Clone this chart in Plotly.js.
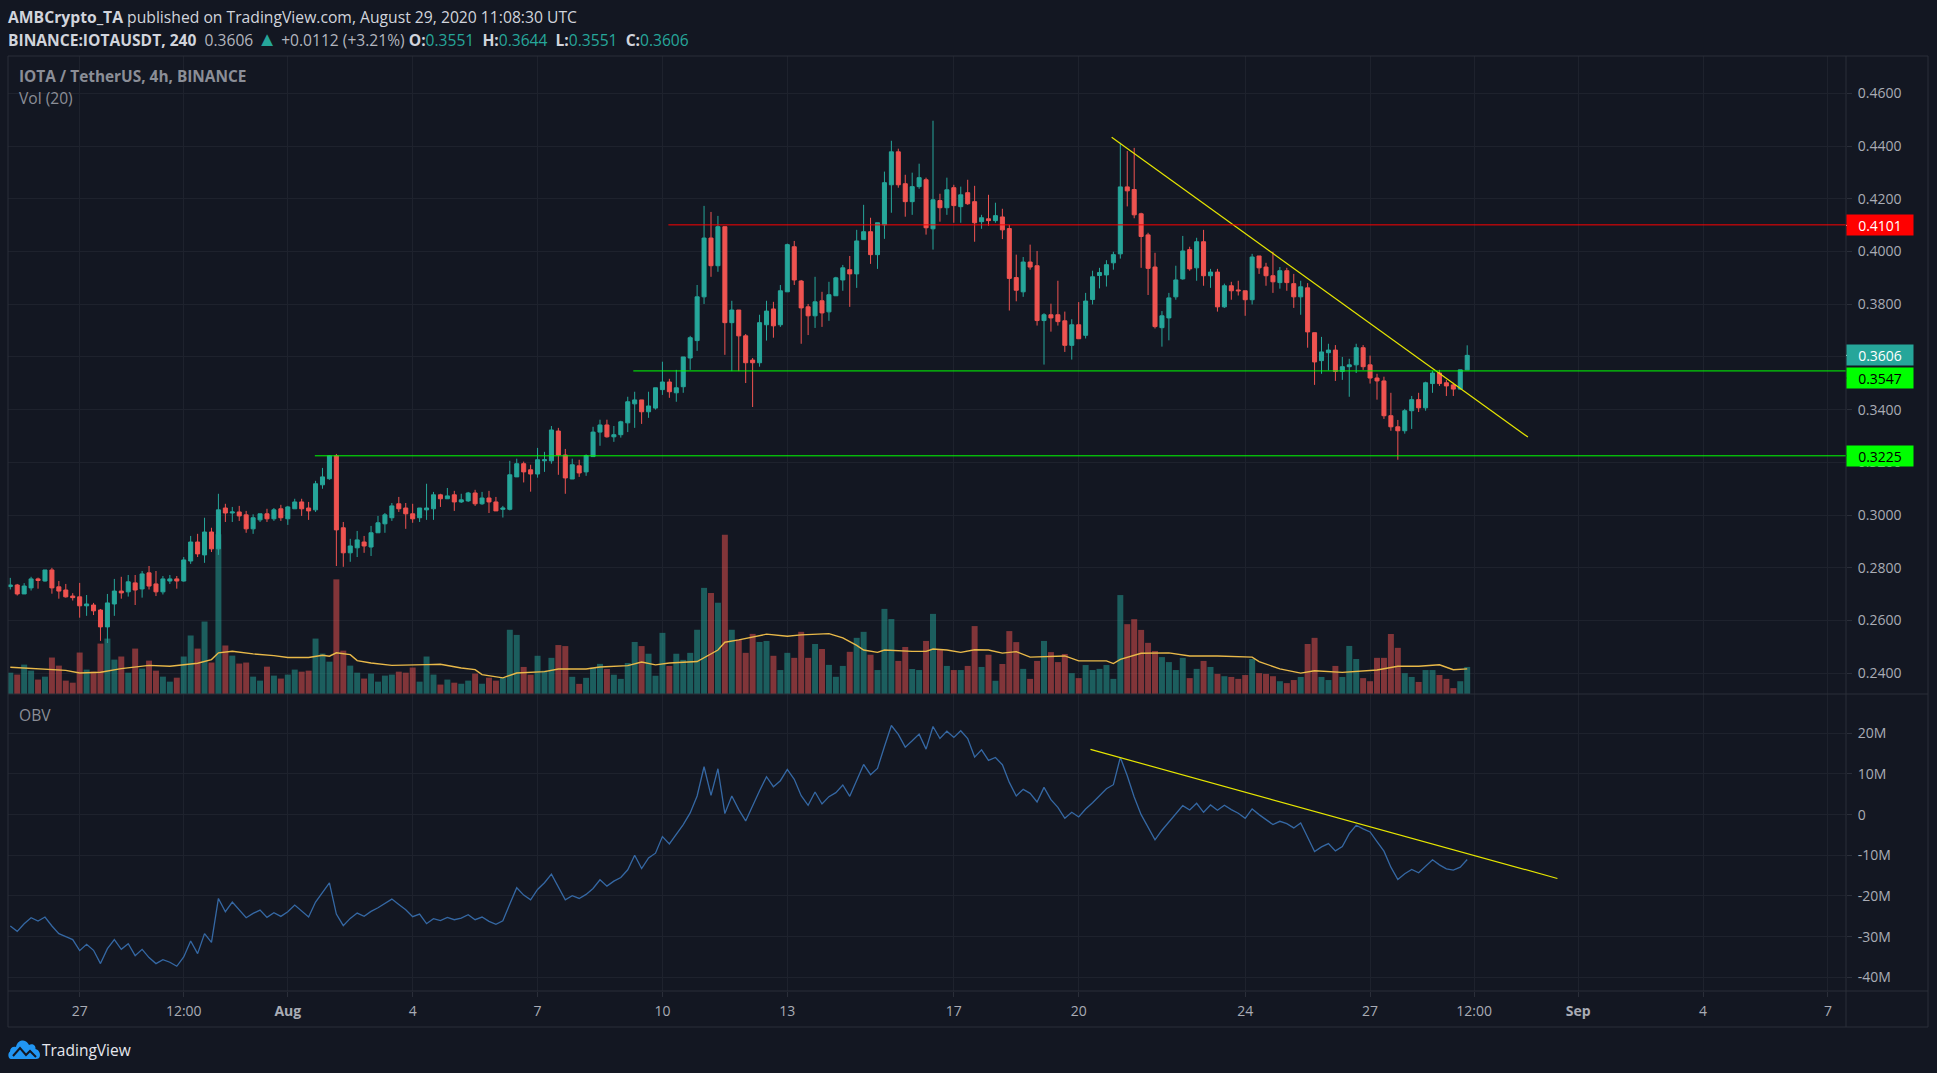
<!DOCTYPE html>
<html><head><meta charset="utf-8">
<script src="https://cdn.plot.ly/plotly-3.0.1.min.js"></script>
<style>html,body{margin:0;padding:0;background:#131722;overflow:hidden}#c{width:1937px;height:1073px}</style>
</head><body><div id="c"></div>
<script>
const startTime = '2020-07-25T08:00:00Z';
const open = [
.2729,.2735,.2701,.2724,.2758,.2750,.2792,.2728,.2716,.2693,
.2690,.2656,.2659,.2640,.2576,.2663,.2712,.2709,.2743,.2720,
.2781,.2739,.2709,.2750,.2758,.2750,.2826,.2898,.2849,.2936,
.2872,.3027,.3008,.3012,.3001,.2948,.2982,.3005,.2986,.3024,
.2986,.3024,.3050,.3027,.3020,.3115,.3138,.3225,.2952,.2857,
.2876,.2898,.2879,.2933,.2967,.2990,.3043,.3027,.3005,.2990,
.3020,.3024,.3077,.3062,.3077,.3050,.3054,.3084,.3043,.3065,
.3050,.3022,.3022,.3145,.3195,.3172,.3156,.3206,.3206,.3319,
.3228,.3137,.3187,.3164,.3222,.3315,.3342,.3297,.3305,.3350,
.3422,.3437,.3392,.3406,.3476,.3505,.3464,.3487,.3596,.3662,
.3828,.4051,.3946,.4094,.3730,.3778,.3680,.3588,.3578,.3722,
.3782,.3722,.3847,.4018,.3888,.3790,.3756,.3813,.3771,.3832,
.3892,.3931,.3915,.4045,.4075,.3988,.4101,.4253,.4378,.4257,
.4189,.4246,.4272,.4086,.4193,.4166,.4242,.4170,.4223,.4189,
.4113,.4124,.4117,.4131,.4087,.3901,.3847,.3960,.3946,.3738,
.3760,.3760,.3737,.3644,.3722,.3682,.3818,.3909,.3911,.3957,
.3991,.4245,.4235,.4143,.4063,.3941,.3711,.3748,.3828,.3896,
.4007,.3938,.4037,.3908,.3922,.3790,.3870,.3854,.3851,.3817,
.3983,.3941,.3908,.3882,.3927,.3878,.3828,.3862,.3692,.3586,
.3616,.3626,.3545,.3563,.3570,.3635,.3570,.3520,.3509,.3377,
.3335,.3320,.3396,.3438,.3407,.3499,.3539,.3502,.3494,.3478,
.3551];
const high = [
.2762,.2739,.2742,.2766,.2763,.2792,.2800,.2750,.2739,.2704,
.2743,.2697,.2667,.2644,.2701,.2758,.2766,.2773,.2773,.2788,
.2807,.2788,.2769,.2773,.2769,.2841,.2921,.2929,.2990,.2952,
.3081,.3043,.3031,.3035,.3016,.3003,.3005,.3024,.3027,.3039,
.3035,.3062,.3062,.3050,.3130,.3179,.3228,.3232,.2974,.2910,
.2940,.2921,.2959,.2997,.3008,.3046,.3069,.3046,.3043,.3027,
.3119,.3088,.3081,.3103,.3092,.3081,.3088,.3096,.3088,.3092,
.3069,.3035,.3206,.3214,.3203,.3191,.3255,.3240,.3338,.3331,
.3251,.3214,.3210,.3230,.3335,.3362,.3362,.3338,.3358,.3449,
.3468,.3437,.3468,.3483,.3582,.3517,.3551,.3600,.3680,.3873,
.4173,.4150,.4135,.4094,.3813,.3778,.3687,.3596,.3760,.3813,
.3809,.3873,.4030,.4040,.3892,.3801,.3904,.3847,.3885,.3904,
.3949,.3983,.4082,.4177,.4128,.4109,.4303,.4420,.4390,.4291,
.4299,.4333,.4280,.4496,.4219,.4280,.4253,.4246,.4272,.4249,
.4139,.4215,.4185,.4162,.4101,.3988,.3979,.4026,.4002,.3766,
.3802,.3889,.3772,.3743,.3808,.3843,.3927,.3938,.3967,.3999,
.4412,.4381,.4393,.4147,.4071,.3995,.3774,.3843,.3946,.4059,
.4018,.4052,.4082,.3934,.3934,.3878,.3885,.3889,.3851,.3991,
.3983,.3957,.3999,.3941,.3938,.3915,.3889,.3880,.3692,.3676,
.3650,.3645,.3600,.3593,.3650,.3645,.3605,.3536,.3525,.3464,
.3361,.3403,.3452,.3464,.3506,.3547,.3551,.3513,.3502,.3551,
.3644];
const low = [
.2718,.2695,.2701,.2714,.2721,.2748,.2702,.2683,.2687,.2676,
.2611,.2618,.2621,.2523,.2515,.2618,.2683,.2691,.2659,.2687,
.2718,.2693,.2699,.2739,.2721,.2748,.2815,.2841,.2819,.2860,
.2849,.2974,.2974,.2978,.2933,.2929,.2974,.2974,.2978,.2978,
.2963,.3024,.2997,.2982,.3012,.3100,.3134,.2807,.2804,.2823,
.2841,.2857,.2845,.2933,.2933,.2978,.3012,.2948,.2971,.2974,
.2982,.2982,.3031,.3062,.3016,.3046,.3050,.3035,.3039,.3008,
.3016,.2991,.3018,.3145,.3124,.3089,.3142,.3164,.3195,.3153,
.3081,.3137,.3145,.3149,.3222,.3263,.3294,.3278,.3294,.3315,
.3331,.3346,.3369,.3400,.3456,.3445,.3430,.3464,.3551,.3623,
.3801,.3904,.3923,.3608,.3546,.3546,.3501,.3410,.3563,.3662,
.3673,.3714,.3847,.3873,.3650,.3683,.3710,.3714,.3737,.3832,
.3851,.3790,.3862,.4045,.3953,.3934,.4048,.4147,.4242,.4132,
.4139,.4238,.4064,.4007,.4113,.4139,.4109,.4109,.4177,.4037,
.4086,.4098,.4109,.4047,.3776,.3811,.3828,.3931,.3719,.3571,
.3696,.3719,.3619,.3590,.3669,.3670,.3799,.3860,.3867,.3931,
.3973,.4171,.4126,.3938,.3835,.3708,.3639,.3663,.3817,.3893,
.3927,.3889,.3870,.3862,.3772,.3786,.3817,.3833,.3756,.3799,
.3915,.3870,.3843,.3859,.3851,.3786,.3760,.3635,.3494,.3536,
.3549,.3509,.3513,.3449,.3539,.3551,.3499,.3438,.3365,.3320,
.3210,.3309,.3327,.3391,.3396,.3464,.3490,.3452,.3452,.3476,
.3551];
const close = [
.2735,.2701,.2731,.2758,.2752,.2792,.2724,.2712,.2690,.2687,
.2656,.2663,.2637,.2576,.2667,.2712,.2705,.2747,.2716,.2777,
.2731,.2709,.2758,.2758,.2750,.2830,.2898,.2853,.2936,.2872,
.3020,.3008,.3012,.2997,.2948,.2990,.3005,.2986,.3020,.2990,
.3031,.3050,.3024,.3016,.3119,.3145,.3225,.2944,.2857,.2883,
.2906,.2883,.2933,.2971,.3001,.3035,.3024,.3005,.2986,.3027,
.3027,.3077,.3062,.3073,.3050,.3058,.3084,.3043,.3065,.3050,
.3016,.3027,.3153,.3195,.3164,.3156,.3210,.3210,.3323,.3228,
.3141,.3191,.3160,.3226,.3315,.3342,.3297,.3305,.3354,.3430,
.3437,.3392,.3414,.3483,.3505,.3468,.3483,.3600,.3673,.3828,
.4051,.3946,.4094,.3730,.3778,.3680,.3578,.3578,.3730,.3774,
.3718,.3851,.4026,.3892,.3786,.3756,.3809,.3767,.3836,.3900,
.3938,.3915,.4040,.4075,.3988,.4109,.4261,.4378,.4253,.4189,
.4246,.4280,.4090,.4196,.4166,.4234,.4174,.4215,.4181,.4109,
.4128,.4117,.4136,.4082,.3898,.3853,.3960,.3941,.3738,.3760,
.3748,.3734,.3644,.3722,.3669,.3812,.3904,.3920,.3950,.3988,
.4245,.4230,.4139,.4057,.3936,.3715,.3756,.3824,.3892,.4002,
.3934,.4037,.3908,.3922,.3790,.3870,.3851,.3851,.3817,.3979,
.3938,.3908,.3885,.3927,.3882,.3828,.3866,.3695,.3581,.3619,
.3626,.3545,.3563,.3570,.3635,.3563,.3520,.3509,.3377,.3335,
.3320,.3396,.3438,.3407,.3502,.3539,.3499,.3490,.3478,.3551,
.3606];
// Volume in millions
const volume = [
1.45,1.32,2.00,1.59,.98,1.18,2.48,1.93,.91,.77,
2.82,1.66,1.52,3.43,3.77,2.34,2.55,1.45,3.09,1.73,
2.27,1.59,1.18,.84,1.11,2.55,3.98,3.09,4.93,2.14,
10.86,3.30,2.61,2.07,2.14,1.18,.91,1.86,1.25,1.05,
1.32,1.66,1.52,1.59,3.77,2.75,2.20,7.80,2.95,1.93,
1.45,1.05,1.39,.84,1.25,1.32,1.52,1.45,1.80,.84,
2.55,1.32,.64,.98,.77,.70,.91,1.39,.70,1.11,
.91,1.10,4.37,4.02,1.84,1.31,2.60,1.59,2.46,3.33,
3.26,1.17,.69,1.10,1.79,2.05,1.70,1.31,1.03,2.11,
3.54,3.26,2.74,1.24,4.16,1.91,2.74,2.32,2.80,4.37,
7.22,6.87,6.21,10.83,4.37,3.68,2.80,4.09,3.54,3.61,
2.60,1.63,2.80,2.46,4.23,2.46,3.40,3.06,1.98,1.17,
1.91,2.87,3.82,4.23,2.67,1.63,5.79,5.10,2.25,3.20,
1.70,1.63,3.61,5.45,3.01,1.91,1.63,1.63,1.91,4.62,
1.84,2.67,.90,2.04,4.28,3.53,1.71,1.03,2.25,3.61,
2.85,2.17,2.72,1.42,1.08,1.97,1.63,1.71,1.97,1.03,
6.73,4.75,5.09,4.36,3.48,2.93,2.51,2.17,1.63,2.46,
1.08,1.71,2.25,1.84,1.37,1.21,1.16,1.03,1.29,2.38,
1.42,1.37,1.21,.87,.74,.95,1.16,3.40,3.82,1.16,
.95,1.91,1.16,3.27,2.38,1.08,.87,2.46,2.46,4.08,
3.14,1.42,1.16,.82,1.63,1.63,1.29,1.03,.40,.87,
1.84];
// Volume average at these bars
const maBar = [0,3,5,6,8,10,13,16,20,23,25,27,29,30,32,35,38,40,43,45,46,47,49,50,52,55,60,62,65,67,68,70,71,73,77,79,83,85,89,91,93,95,99,102,103,105,107,109,112,114,118,120,122,123,125,126,130,132,133,135,137,139,141,143,145,147,152,154,158,159,160,163,167,170,174,179,180,183,186,188,192,197,200,203,206,208,210];
const maVal = [1.82,1.75,1.73,1.66,1.61,1.43,1.48,1.73,1.95,1.89,2.00,2.09,2.34,2.80,2.91,2.73,2.61,2.48,2.48,2.64,2.57,2.80,2.68,2.27,2.11,1.95,2.00,2.02,1.77,1.66,1.32,1.14,1.10,1.43,1.52,1.70,1.70,1.84,1.93,2.18,1.98,2.11,2.21,2.99,3.52,3.68,3.86,4.07,3.93,4.02,4.11,3.82,3.31,2.99,2.83,2.99,2.90,2.90,3.06,2.99,2.83,3.01,2.99,2.78,2.88,2.51,2.59,2.25,2.25,2.07,2.36,2.77,2.80,2.59,2.59,2.51,2.20,1.71,1.42,1.58,1.47,1.63,1.89,1.89,1.99,1.65,1.71];
// On-balance volume in millions
const obv = [
-27.39,-28.70,-26.82,-25.35,-26.17,-25.18,-27.39,-29.27,-30.00,-30.74,
-33.44,-31.89,-33.36,-36.63,-32.95,-30.74,-33.12,-31.73,-34.67,-33.12,
-35.16,-36.63,-35.65,-36.30,-37.29,-35.00,-31.07,-34.18,-29.27,-31.40,
-20.61,-23.88,-21.50,-23.47,-25.35,-24.28,-23.47,-25.27,-24.12,-25.02,
-23.88,-22.24,-23.71,-25.18,-21.50,-18.97,-16.76,-24.45,-27.31,-25.51,
-24.20,-25.02,-23.79,-22.89,-21.83,-20.77,-22.08,-23.38,-25.10,-24.45,
-26.82,-25.59,-26.08,-25.27,-25.84,-25.43,-24.61,-25.84,-25.18,-26.25,
-26.98,-26.10,-22.00,-17.99,-19.79,-20.93,-18.40,-16.76,-14.64,-17.83,
-20.93,-19.95,-20.61,-19.62,-18.15,-16.03,-17.58,-16.35,-15.45,-13.57,
-9.98,-13.25,-10.63,-9.48,-5.40,-7.20,-4.74,-2.45,.41,4.58,
11.77,4.74,11.28,.25,4.58,1.23,-1.55,2.29,5.89,9.32,
6.87,8.34,11.12,8.67,4.66,2.29,5.56,2.62,4.42,5.40,
7.28,4.50,8.34,12.35,9.81,11.37,16.76,21.91,19.71,16.60,
18.15,19.79,16.11,21.67,18.72,20.52,18.97,20.61,18.72,14.15,
15.94,13.33,14.06,12.27,7.93,4.58,6.21,5.23,3.11,6.70,
3.68,1.80,-.90,.57,-.57,1.39,2.94,4.66,6.38,7.36,
14.06,9.57,4.33,0,-3.27,-6.21,-3.84,-1.80,0,2.21,
1.14,2.78,.57,2.37,1.06,2.29,1.23,.33,-.90,1.39,
0,-1.31,-2.45,-1.64,-2.21,-3.27,-2.04,-5.56,-9.08,-7.93,
-7.11,-8.91,-7.85,-4.66,-2.62,-3.52,-4.25,-6.62,-8.99,-12.92,
-15.94,-14.55,-13.49,-14.31,-12.67,-11.12,-12.35,-13.33,-13.65,-12.92,
-11.04];
const trendPriceBar = [158.75,218.75];
const trendPrice = [.4433,.3296];
const trendObvBar = [155.7,223];
const trendObv = [16.04,-15.7];
const levels = [.4101,.3547,.3225];
const levelStartBar = [94.86,89.8,43.9];
const levelColors = ['#ff0000','#00ff00','#00ff00'];
const priceTicks = [.24,.26,.28,.30,.32,.34,.36,.38,.40,.42,.44,.46];
const priceTickText = ['0.2400','0.2600','0.2800','0.3000','0.3200','0.3400','0.3600','0.3800','0.4000','0.4200','0.4400','0.4600'];
const obvTicks = [20,10,0,-10,-20,-30,-40];
const obvTickText = ['20M','10M','0','-10M','-20M','-30M','-40M'];
const timeTicks = ['2020-07-27T00:00:00Z','2020-07-29T12:00:00Z','2020-08-01T00:00:00Z','2020-08-04T00:00:00Z','2020-08-07T00:00:00Z','2020-08-10T00:00:00Z','2020-08-13T00:00:00Z','2020-08-17T00:00:00Z','2020-08-20T00:00:00Z','2020-08-24T00:00:00Z','2020-08-27T00:00:00Z','2020-08-29T12:00:00Z','2020-09-01T00:00:00Z','2020-09-04T00:00:00Z','2020-09-07T00:00:00Z'];
const timeTickText = ['27','12:00','<b>Aug</b>','4','7','10','13','17','20','24','27','12:00','<b>Sep</b>','4','7'];
const priceLabels = ['0.4101','0.3606','0.3547','0.3225'];
const priceLabelPos = [.4099,.3606,.3520,.3225];
const priceLabelBg = ['#ff0000','#26a69a','#00ff00','#00ff00'];
const priceLabelFg = ['#ffffff','#ffffff','#000000','#000000'];

const H4 = 4*3600*1000, t0 = Date.parse(startTime);
const iso = ms => new Date(ms).toISOString().replace('Z','');
const barTime = i => iso(t0 + i*H4);
const dates = open.map((_,i)=>barTime(i));
const UP='#26a69a', DN='#ef5350';
const volColors = close.map((c,i)=> c>=open[i] ? 'rgba(38,166,154,0.5)' : 'rgba(239,83,80,0.5)');

// pane geometry (pixels in the 1937x1073 picture)
const L=8,R=1846,T=56,M=694,B=991;
const W=R-L, HT=B-T;
const px = x => (x-L)/W, py = y => (B-y)/HT;
const GRID='#1e222d', FRAME='#2a2e39', TXT='#a9acb5';
const FONT='"Open Sans", "Noto Sans", sans-serif';

const traces = [
 {type:'bar',x:dates,y:volume,yaxis:'y2',width:H4*0.86,marker:{color:volColors,line:{width:0}},hoverinfo:'skip',showlegend:false},
 {type:'scatter',mode:'lines',x:maBar.map(barTime),y:maVal,yaxis:'y2',line:{color:'#e9b949',width:1.4},hoverinfo:'skip',showlegend:false},
 {type:'candlestick',x:dates,open,high,low,close,yaxis:'y',
  increasing:{line:{color:UP,width:1},fillcolor:UP},decreasing:{line:{color:DN,width:1},fillcolor:DN},whiskerwidth:0,hoverinfo:'skip',showlegend:false},
 {type:'scatter',mode:'lines',x:trendPriceBar.map(barTime),y:trendPrice,yaxis:'y',line:{color:'#e6e600',width:1.2},hoverinfo:'skip',showlegend:false},
 {type:'scatter',mode:'lines',x:dates,y:obv,yaxis:'y3',line:{color:'#3568a4',width:1.3},hoverinfo:'skip',showlegend:false},
 {type:'scatter',mode:'lines',x:trendObvBar.map(barTime),y:trendObv,yaxis:'y3',line:{color:'#e6e600',width:1.2},hoverinfo:'skip',showlegend:false}
];
levels.forEach((v,k)=>traces.push({type:'scatter',mode:'lines',x:[barTime(levelStartBar[k]),barTime(264.6)],y:[v,v],yaxis:'y',line:{color:levelColors[k],width:1},hoverinfo:'skip',showlegend:false}));

const line=(x0,y0,x1,y1,c=FRAME)=>({type:'line',xref:'paper',yref:'paper',x0:px(x0),y0:py(y0),x1:px(x1),y1:py(y1),line:{color:c,width:1},layer:'above'});
const shapes=[
 line(L,T,1928,T),line(L,T,L,1027),line(L,1027,1928,1027),line(1928,T,1928,1027),line(R,T,R,1027),
 line(L,M,1928,M),line(L,B,1928,B),
 {type:'path',xref:'paper',yref:'paper',xsizemode:'pixel',ysizemode:'pixel',xanchor:px(8),yanchor:py(1059),
  path:'M 3,0 C 0,0 -0.5,6 2,7.5 C 2,11 5,13 8,12 C 9,17 12,18.5 15,18.5 C 18,18.5 20,16 21,14 C 24,16 28,14 27.5,10 C 31,9 32,6 32,4 C 32,1 30,0 28,0 Z',
  fillcolor:'#2196f3',line:{width:0},layer:'above'},
 {type:'path',xref:'paper',yref:'paper',xsizemode:'pixel',ysizemode:'pixel',xanchor:px(8),yanchor:py(1059),
  path:'M 5,3 L 12,11 L 18,4 L 22,8 L 28,2',line:{color:'#131722',width:2},layer:'above'}
];
const txt=(s,x,y,size,color,extra={})=>Object.assign({xref:'paper',yref:'paper',x:px(x),y:py(y),xanchor:'left',yanchor:'middle',text:s,showarrow:false,font:{family:FONT,size,color},align:'left'},extra);
const G='<span style="color:#26a69a">';
const GAP='&nbsp;&nbsp;';
const annotations=[
 txt('<b>AMBCrypto_TA</b> published on TradingView.com, August 29, 2020 11:08:30 UTC',6,16.5,15.7,'#d1d4dc'),
 txt('<b>BINANCE:IOTAUSDT, 240</b>  <span style="color:#b2b5be">0.3606</span> <span style="color:#26a69a;font-size:20px">▲</span> <span style="color:#b2b5be">+0.0112 (+3.21%)</span> <b>O:</b>'+G+'0.3551</span>'+GAP+'<b>H:</b>'+G+'0.3644</span>'+GAP+'<b>L:</b>'+G+'0.3551</span>'+GAP+'<b>C:</b>'+G+'0.3606</span>',6,38.5,15.6,'#d1d4dc'),
 txt('<b>IOTA / TetherUS, 4h, BINANCE</b>',16.5,76.5,15.4,'#8b8e97'),
 txt('Vol (20)',16.5,98,15.6,'#8b8e97'),
 txt('OBV',16.5,714.5,15.6,'#8b8e97'),
 txt('TradingView',40,1050,15.5,'#e6e8ee')
];
priceLabels.forEach((s,k)=>{
 annotations.push({xref:'paper',yref:'y',x:1,y:priceLabelPos[k],xanchor:'left',yanchor:'middle',text:s,showarrow:false,
  width:66,height:20,bgcolor:priceLabelBg[k],align:'center',valign:'middle',borderpad:0,font:{family:FONT,size:14,color:priceLabelFg[k]}});
 shapes.push({type:'line',xref:'paper',yref:'y',x0:1,x1:px(1851),y0:priceLabelPos[k],y1:priceLabelPos[k],line:{color:priceLabelFg[k],width:1},layer:'above'});
});

const axisCommon={showgrid:true,gridcolor:GRID,gridwidth:1,zeroline:false,showline:false,ticks:'outside',ticklen:5,tickwidth:1,tickcolor:FRAME,tickfont:{family:FONT,size:14,color:TXT},fixedrange:true};
const layout={
 width:1937,height:1073,paper_bgcolor:'#131722',plot_bgcolor:'#131722',showlegend:false,hovermode:false,
 margin:{l:L,r:1937-R,t:T,b:1073-B,pad:0},boxgap:0.42,boxgroupgap:0,
 xaxis:Object.assign({},axisCommon,{type:'date',anchor:'y3',domain:[0,1],range:[barTime(-0.33),barTime(264.6)],tickmode:'array',tickvals:timeTicks.map(s=>s.replace('Z','')),ticktext:timeTickText,rangeslider:{visible:false},ticklabelstandoff:2}),
 yaxis:Object.assign({},axisCommon,{domain:[py(M),1],range:[.23215,.47415],side:'right',anchor:'x',tickmode:'array',tickvals:priceTicks,ticktext:priceTickText,ticklabelstandoff:3}),
 yaxis2:{overlaying:'y',range:[0,43.4],visible:false,fixedrange:true},
 yaxis3:Object.assign({},axisCommon,{domain:[0,py(M)],range:[-43.37,29.66],side:'right',anchor:'x',tickmode:'array',tickvals:obvTicks,ticktext:obvTickText,ticklabelstandoff:3}),
 shapes,annotations
};
Plotly.newPlot('c',traces,layout,{staticPlot:true,displayModeBar:false,responsive:false});
</script></body></html>
